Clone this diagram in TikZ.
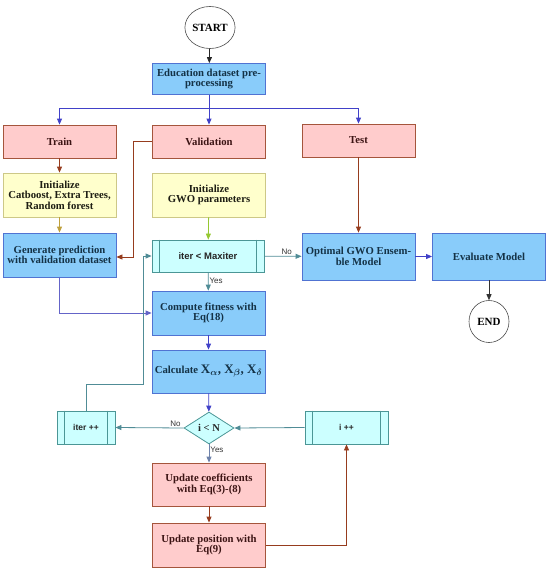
\documentclass[tikz,border=0pt]{standalone}
\usepackage{amsmath}
\usepackage{fontspec}
\setmainfont{Liberation Serif}
\setsansfont{Liberation Sans}
\usetikzlibrary{shapes.geometric,arrows.meta}
\definecolor{bfill}{RGB}{137,204,250}
\definecolor{bdraw}{RGB}{80,115,210}
\definecolor{btext}{RGB}{20,50,70}
\definecolor{pfill}{RGB}{255,204,204}
\definecolor{pdraw}{RGB}{165,85,60}
\definecolor{ptext}{RGB}{60,20,20}
\definecolor{yfill}{RGB}{255,255,204}
\definecolor{ydraw}{RGB}{205,200,135}
\definecolor{ytext}{RGB}{30,30,20}
\definecolor{cfill}{RGB}{204,255,255}
\definecolor{cdraw}{RGB}{75,150,150}
\definecolor{ablue}{RGB}{65,65,200}
\definecolor{abrown}{RGB}{150,60,30}
\definecolor{aolive}{RGB}{190,160,60}
\definecolor{agreen}{RGB}{150,200,50}
\definecolor{ateal}{RGB}{80,140,150}
\definecolor{agray}{RGB}{110,130,170}
\definecolor{aviolet}{RGB}{100,100,200}
\begin{document}
\begin{tikzpicture}[x=1pt,y=-1pt,
  boxbase/.style={rectangle,draw,line width=0.8pt,inner sep=1pt,align=center,
    font=\fontsize{10.7}{10.5}\selectfont\bfseries,minimum width=113pt},
  bluebox/.style={boxbase,fill=bfill,draw=bdraw,text=btext},
  pinkbox/.style={boxbase,fill=pfill,draw=pdraw,text=ptext},
  yelbox/.style={boxbase,fill=yfill,draw=ydraw,text=ytext},
  procbox/.style={rectangle,draw=cdraw,fill=cfill,line width=0.8pt,inner sep=1pt,
    text=black!85,font=\sffamily\bfseries\fontsize{9.5}{10}\selectfont},
  term/.style={ellipse,draw=black!70,fill=white,line width=0.6pt,inner sep=0pt,
    minimum width=40pt,minimum height=42pt,font=\fontsize{11}{11}\selectfont\bfseries},
  decis/.style={diamond,draw=cdraw,fill=cfill,line width=0.8pt,inner sep=0pt,
    minimum width=50pt,minimum height=32pt,aspect=1.56,
    font=\fontsize{10.5}{10}\selectfont\bfseries,text=black!85},
  arr/.style={line width=0.8pt,-{Triangle[length=6pt,width=5pt]}},
  lab/.style={font=\sffamily\fontsize{8}{8}\selectfont,text=black!80,inner sep=1pt}]
\useasboundingbox (0,0) rectangle (550,570);

% nodes
\node[term] (start) at (210,27.5) {START};
\node[bluebox,minimum height=31pt] (edu) at (209,79) {Education dataset pre-\\processing};
\node[pinkbox,minimum height=33pt] (train) at (59.5,141.5) {Train};
\node[pinkbox,minimum height=33pt] (valid) at (209,141.5) {Validation};
\node[pinkbox,minimum height=33pt] (test) at (358.5,140.5) {Test};
\node[yelbox,minimum height=44pt] (initcb) at (59.5,195) {Initialize\\Catboost, Extra Trees,\\Random forest};
\node[yelbox,minimum height=44pt] (initgwo) at (209,195) {Initialize\\GWO parameters};
\node[bluebox,minimum height=44pt] (gen) at (59.5,255) {Generate prediction\\with validation dataset};
\node[procbox,minimum width=112pt,minimum height=32pt] (iter) at (208,256) {iter < Maxiter};
\node[bluebox,minimum height=47pt] (opt) at (358.5,256.5) {Optimal GWO Ensem-\\ble Model};
\node[bluebox,minimum height=47pt] (eval) at (489,256.5) {Evaluate Model};
\node[term] (endn) at (489,321.5) {END};
\node[bluebox,minimum height=44pt] (comp) at (208.5,313) {Compute fitness with\\Eq(18)};
\node[bluebox,minimum height=43pt] (calc) at (208.5,371.5) {Calculate {\fontsize{13}{13}\selectfont$\textbf{X}_{\boldsymbol{\alpha}}$, $\textbf{X}_{\boldsymbol{\beta}}$, $\textbf{X}_{\boldsymbol{\delta}}$}};
\node[decis] (dia) at (209,428) {i < N};
\node[procbox,minimum width=58pt,minimum height=33pt,font=\sffamily\bfseries\fontsize{8.5}{8}\selectfont] (iterpp) at (86,427.5) {iter ++};
\node[procbox,minimum width=83pt,minimum height=33pt,font=\sffamily\bfseries\fontsize{8.5}{8}\selectfont] (ipp) at (346.5,427.5) {i ++};
\node[pinkbox,minimum height=43pt] (upc) at (209,484.5) {Update coefficients\\with Eq(3)-(8)};
\node[pinkbox,minimum height=44pt] (upp) at (209,545) {Update position with\\Eq(9)};

% inner bars of process boxes
\foreach \n in {iter,iterpp,ipp}{
  \draw[cdraw,line width=0.8pt] ([xshift=8pt]\n.north west) -- ([xshift=8pt]\n.south west);
  \draw[cdraw,line width=0.8pt] ([xshift=-8pt]\n.north east) -- ([xshift=-8pt]\n.south east);
}

% coordinates
\coordinate (br) at (209,108);
\coordinate (v1) at (133,141.5);
\coordinate (v2) at (133,257);
\coordinate (g1) at (59.5,313);
\coordinate (r1) at (86,384);
\coordinate (r2) at (143,384);
\coordinate (r3) at (143,256);
\coordinate (u1) at (346.5,545);

% connectors
\draw[arr,black!85] (start) -- (edu);
\draw[arr,ablue] (edu) -- (valid);
\draw[arr,ablue] (br) -| (train.north);
\draw[arr,ablue] (br) -| (test.north);
\draw[arr,abrown] (train) -- (initcb);
\draw[arr,aolive] (initcb) -- (gen);
\draw[arr,abrown] (valid.west) -- (v1) -- (v2) -- (v2 -| gen.east);
\draw[arr,agreen] (initgwo) -- (iter);
\draw[arr,abrown] (test) -- (opt);
\draw[arr,ateal] (iter) -- node[lab,above,pos=0.6]{No} (opt);
\draw[arr,ateal] (iter) -- node[lab,right,pos=0.45]{Yes} (comp);
\draw[arr,aviolet] (gen.south) -- (g1) -- (comp.west);
\draw[arr,ablue] (comp) -- (calc);
\draw[arr,ablue] (calc) -- (dia);
\draw[arr,ateal] (dia.west) -- node[lab,above,pos=0.12]{No} (iterpp.east);
\draw[arr,ateal] (iterpp.north) -- (r1) -- (r2) -- (r3) -- (iter.west);
\draw[arr,ateal] (ipp.west) -- (dia.east);
\draw[arr,agray] (dia.south) -- node[lab,right,pos=0.3]{Yes} (upc.north);
\draw[arr,abrown] (upc) -- (upp);
\draw[arr,abrown] (upp.east) -- (u1) -- (ipp.south);
\draw[arr,ablue] (opt) -- (eval);
\draw[arr,black!80] (eval) -- (endn);
\end{tikzpicture}
\end{document}
